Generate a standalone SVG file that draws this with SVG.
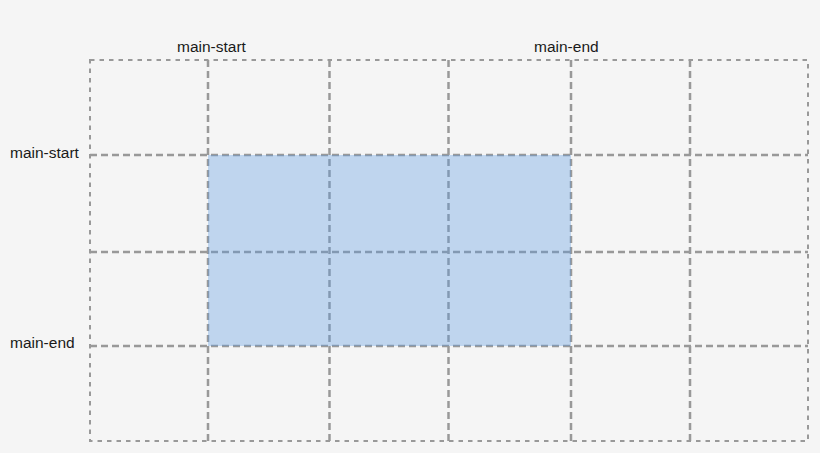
<svg xmlns="http://www.w3.org/2000/svg" width="820" height="453" viewBox="0 0 820 453">
<style>
.lbl{font-family:"Liberation Sans",Arial,sans-serif;font-size:15.5px;fill:#1a1a1a}
.inner{stroke:#999;stroke-width:2.5;stroke-dasharray:7 4;fill:none}
.outer{stroke:#999;stroke-width:2;stroke-dasharray:4.5 5;fill:none}
</style>
<rect x="0" y="0" width="820" height="453" fill="#f5f5f5"/>
<g id="grid-lines">
<line class="inner" x1="208" y1="60" x2="208" y2="441"/>
<line class="inner" x1="329.5" y1="60" x2="329.5" y2="441"/>
<line class="inner" x1="448.5" y1="60" x2="448.5" y2="441"/>
<line class="inner" x1="571" y1="60" x2="571" y2="441"/>
<line class="inner" x1="690" y1="60" x2="690" y2="441"/>
<line class="inner" x1="90" y1="155" x2="808" y2="155"/>
<line class="inner" x1="90" y1="252" x2="808" y2="252"/>
<line class="inner" x1="90" y1="346" x2="808" y2="346"/>
<rect class="outer" x="90" y="60" width="718" height="381"/>
</g>
<g id="item">
<rect x="208" y="155" width="363" height="191" fill="#5d9ce1" fill-opacity="0.35"/>
</g>
<g id="labels">
<text class="lbl" x="177" y="52">main-start</text>
<text class="lbl" x="534" y="52">main-end</text>
<text class="lbl" x="10" y="158">main-start</text>
<text class="lbl" x="10" y="348">main-end</text>
</g>
</svg>
